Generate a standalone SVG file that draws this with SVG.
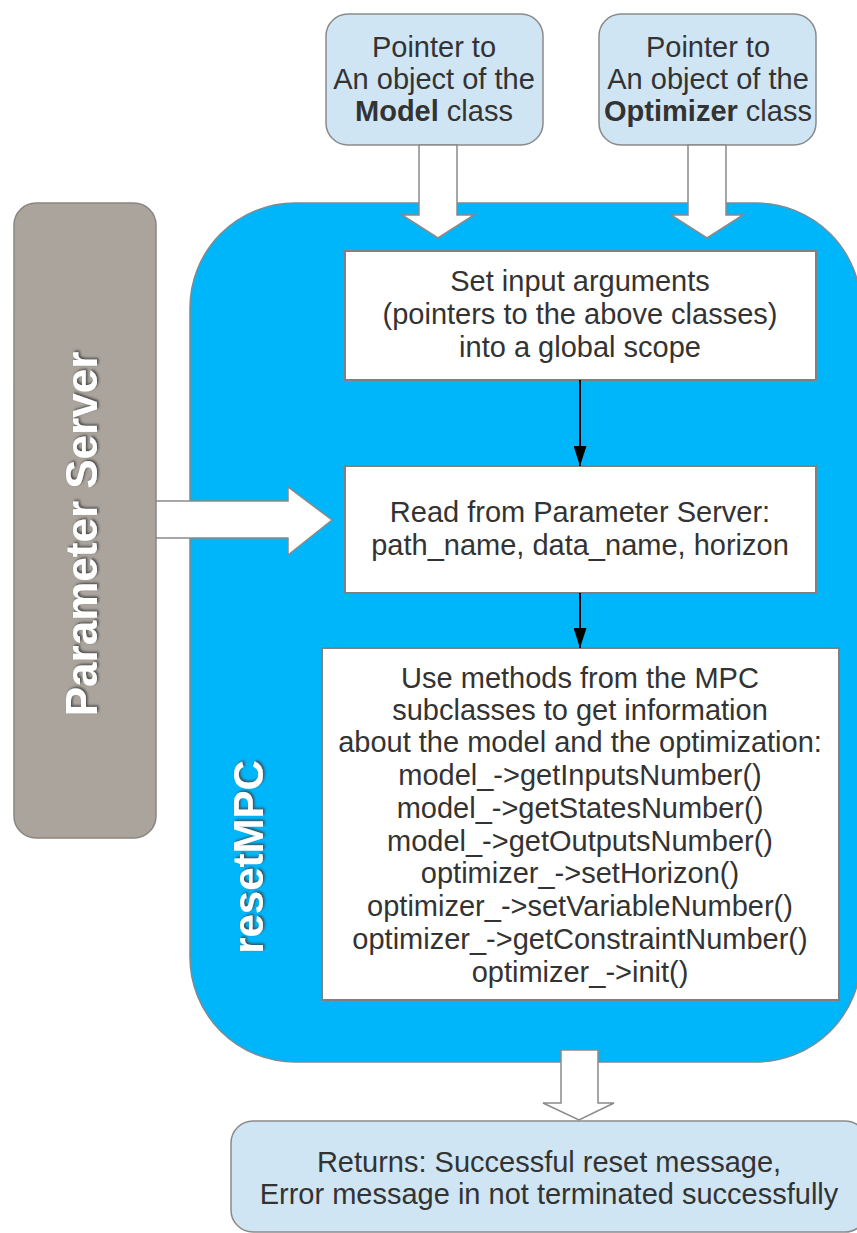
<svg xmlns="http://www.w3.org/2000/svg" width="857" height="1233" viewBox="0 0 857 1233">
<style>
.t{font-family:"Liberation Sans",Arial,sans-serif;font-size:29px;fill:#333;text-anchor:middle}
.b{font-weight:bold}
.lb{fill:#cfe5f3;stroke:#8a8a8a;stroke-width:1.5}
.wb{fill:#fff;stroke:#808080;stroke-width:2}
.ha{fill:#fff;stroke:#8a8a8a;stroke-width:1.5}
.vt{font-family:"Liberation Sans",Arial,sans-serif;font-weight:bold;fill:#fff;text-anchor:middle}
.cn{stroke:#000;stroke-width:2;fill:none}
</style>
<defs>
<marker id="ah" viewBox="0 0 20 13" refX="20" refY="6.5" markerWidth="20" markerHeight="13" markerUnits="userSpaceOnUse" orient="auto">
<path d="M0,0 L20,6.5 L0,13 z" fill="#000"/>
</marker>
<filter id="sh" x="-10%" y="-10%" width="120%" height="120%">
<feDropShadow dx="1.5" dy="1.5" stdDeviation="0.8" flood-color="#404040" flood-opacity="0.9"/>
</filter>
</defs>
<rect width="857" height="1233" fill="#fff"/>

<g id="resetMPC">
<rect x="190" y="203" width="671" height="859" rx="105" ry="105" fill="#00b6fb" stroke="#7a8c94" stroke-width="1.5"/>
<text class="vt" font-size="42" transform="translate(263,857) rotate(-90)" filter="url(#sh)">resetMPC</text>
</g>

<g id="param-server">
<rect x="14" y="203" width="142" height="635" rx="22" ry="22" fill="#aaa49d" stroke="#8a8580" stroke-width="1.5"/>
<text class="vt" font-size="44" transform="translate(97,534) rotate(-90)" filter="url(#sh)">Parameter Server</text>
</g>

<g id="model-ptr">
<rect class="lb" x="326" y="14" width="217" height="131" rx="22" ry="22"/>
<text class="t" x="434" y="57">Pointer to</text>
<text class="t" x="434" y="89">An object of the</text>
<text class="t" x="434" y="121"><tspan class="b">Model</tspan> class</text>
</g>

<g id="optimizer-ptr">
<rect class="lb" x="599" y="14" width="217" height="131" rx="22" ry="22"/>
<text class="t" x="708" y="57">Pointer to</text>
<text class="t" x="708" y="89">An object of the</text>
<text class="t" x="708" y="121"><tspan class="b">Optimizer</tspan> class</text>
</g>

<g id="set-input">
<rect class="wb" x="345" y="251" width="471" height="129"/>
<text class="t" x="580" y="291">Set input arguments</text>
<text class="t" x="580" y="324">(pointers to the above classes)</text>
<text class="t" x="580" y="357">into a global scope</text>
</g>

<g id="read-param">
<rect class="wb" x="345" y="466" width="471" height="127"/>
<text class="t" x="580" y="522">Read from Parameter Server:</text>
<text class="t" x="580" y="555">path_name, data_name, horizon</text>
</g>

<g id="use-methods">
<rect class="wb" x="322" y="648" width="517" height="352"/>
<text class="t" x="580" y="688">Use methods from the MPC</text>
<text class="t" x="580" y="720">subclasses to get information</text>
<text class="t" x="580" y="752">about the model and the optimization:</text>
<text class="t" x="580" y="785">model_-&gt;getInputsNumber()</text>
<text class="t" x="580" y="818">model_-&gt;getStatesNumber()</text>
<text class="t" x="580" y="851">model_-&gt;getOutputsNumber()</text>
<text class="t" x="580" y="883">optimizer_-&gt;setHorizon()</text>
<text class="t" x="580" y="916">optimizer_-&gt;setVariableNumber()</text>
<text class="t" x="580" y="949">optimizer_-&gt;getConstraintNumber()</text>
<text class="t" x="580" y="982">optimizer_-&gt;init()</text>
</g>

<g id="returns">
<rect class="lb" x="231" y="1121" width="636" height="111" rx="22" ry="22"/>
<text class="t" x="549" y="1172">Returns: Successful reset message,</text>
<text class="t" x="549" y="1204">Error message in not terminated successfully</text>
</g>

<g id="connectors">
<path class="ha" d="M419,145 L457,145 L457,215 L474,215 L438,238 L402,215 L419,215 Z"/>
<path class="ha" d="M688,145 L726,145 L726,215 L743,215 L707,238 L671,215 L688,215 Z"/>
<path class="ha" d="M156,501 L288,501 L288,487 L332,520 L288,555 L288,538 L156,538 Z"/>
<path class="ha" d="M561,1050 L598,1050 L598,1103 L614,1103 L579,1120 L543,1103 L561,1103 Z"/>
<line class="cn" x1="580" y1="380" x2="580" y2="466" marker-end="url(#ah)"/>
<line class="cn" x1="580" y1="593" x2="580" y2="648" marker-end="url(#ah)"/>
</g>
</svg>
